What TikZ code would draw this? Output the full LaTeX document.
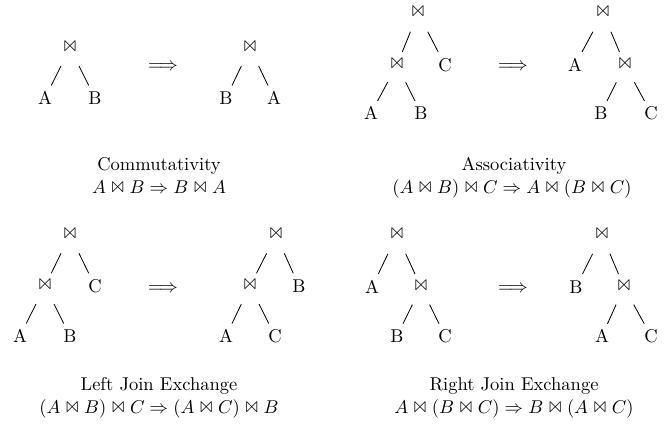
\documentclass[tikz,border=0pt]{standalone}
\usepackage{latexsym}
\usetikzlibrary{calc}
\tikzset{
  lbl/.style={inner sep=0pt, font=\fontsize{10}{12}\selectfont},
  captext/.style={inner sep=0pt, anchor=base, font=\fontsize{10}{12}\selectfont},
  edge/.style={line width=0.45pt},
}
\newcommand\tedge[2]{\draw[edge] ($(#1)!0.36!(#2)$) -- ($(#1)!0.75!(#2)$);}
\newcommand\jn{$\Join$}
\begin{document}
\begin{tikzpicture}[x=0.54pt,y=-0.54pt]
\useasboundingbox (0,0) rectangle (667,425);
% Panel 1
\node[lbl] (j1) at (70,48) {\jn};
\node[lbl] (a1) at (45,98) {A};
\node[lbl] (b1) at (95,98) {B};
\tedge{j1}{a1} \tedge{j1}{b1}
\node[lbl] (ar1) at (163,67) {$\Longrightarrow$};
\node[lbl] (j1r) at (250,48) {\jn};
\node[lbl] (b1r) at (226,98) {B};
\node[lbl] (a1r) at (274,98) {A};
\tedge{j1r}{b1r} \tedge{j1r}{a1r}
\node[captext] (cap1) at (159,170) {Commutativity};
\node[captext] (f1) at (159,193) {$A \Join B \Rightarrow B \Join A$};
% Panel 2
\node[lbl] (j2) at (418,13) {\jn};
\node[lbl] (m2) at (397,65) {\jn};
\node[lbl] (c2) at (445,65) {C};
\node[lbl] (a2) at (371,113) {A};
\node[lbl] (b2) at (421,113) {B};
\tedge{j2}{m2} \tedge{j2}{c2} \tedge{m2}{a2} \tedge{m2}{b2}
\node[lbl] (ar2) at (513,67) {$\Longrightarrow$};
\node[lbl] (j2r) at (603,13) {\jn};
\node[lbl] (a2r) at (575,65) {A};
\node[lbl] (m2r) at (625,65) {\jn};
\node[lbl] (b2r) at (601,113) {B};
\node[lbl] (c2r) at (651,113) {C};
\tedge{j2r}{a2r} \tedge{j2r}{m2r} \tedge{m2r}{b2r} \tedge{m2r}{c2r}
\node[captext] (cap2) at (514,170) {Associativity};
\node[captext] (f2) at (512,193) {$(A \Join B) \Join C \Rightarrow A \Join (B \Join C)$};
% Panel 3
\node[lbl] (j3) at (70,235) {\jn};
\node[lbl] (m3) at (45,286) {\jn};
\node[lbl] (c3) at (95,286) {C};
\node[lbl] (a3) at (20,336) {A};
\node[lbl] (b3) at (70,336) {B};
\tedge{j3}{m3} \tedge{j3}{c3} \tedge{m3}{a3} \tedge{m3}{b3}
\node[lbl] (ar3) at (163,289) {$\Longrightarrow$};
\node[lbl] (j3r) at (276,235) {\jn};
\node[lbl] (m3r) at (250,286) {\jn};
\node[lbl] (b3r) at (299,286) {B};
\node[lbl] (a3r) at (226,336) {A};
\node[lbl] (c3r) at (275,336) {C};
\tedge{j3r}{m3r} \tedge{j3r}{b3r} \tedge{m3r}{a3r} \tedge{m3r}{c3r}
\node[captext] (cap3) at (159,390) {Left Join Exchange};
\node[captext] (f3) at (159,413) {$(A \Join B) \Join C \Rightarrow (A \Join C) \Join B$};
% Panel 4
\node[lbl] (j4) at (397,235) {\jn};
\node[lbl] (a4) at (372,287) {A};
\node[lbl] (m4) at (421,287) {\jn};
\node[lbl] (b4) at (397,336) {B};
\node[lbl] (c4) at (445,336) {C};
\tedge{j4}{a4} \tedge{j4}{m4} \tedge{m4}{b4} \tedge{m4}{c4}
\node[lbl] (ar4) at (513,289) {$\Longrightarrow$};
\node[lbl] (j4r) at (602,235) {\jn};
\node[lbl] (b4r) at (576,287) {B};
\node[lbl] (m4r) at (624,287) {\jn};
\node[lbl] (a4r) at (602,336) {A};
\node[lbl] (c4r) at (651,336) {C};
\tedge{j4r}{b4r} \tedge{j4r}{m4r} \tedge{m4r}{a4r} \tedge{m4r}{c4r}
\node[captext] (cap4) at (514,390) {Right Join Exchange};
\node[captext] (f4) at (514,413) {$A \Join (B \Join C) \Rightarrow B \Join (A \Join C)$};
\end{tikzpicture}
\end{document}
